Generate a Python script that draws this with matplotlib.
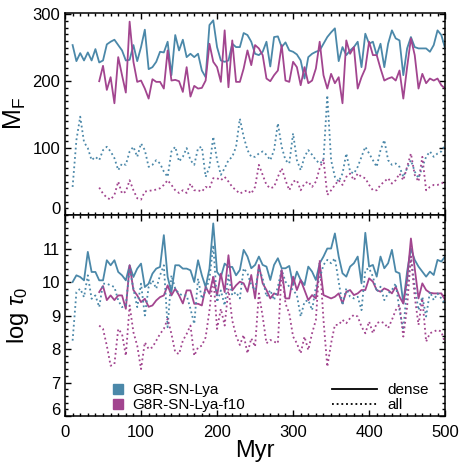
import numpy as np
import matplotlib
matplotlib.use('Agg')
import matplotlib.pyplot as plt
from matplotlib.ticker import MultipleLocator
from matplotlib.lines import Line2D
from matplotlib.transforms import ScaledTranslation

plt.rcParams['font.family'] = ['Liberation Sans', 'DejaVu Sans']
plt.rcParams['mathtext.fontset'] = 'custom'
plt.rcParams['mathtext.rm'] = 'Liberation Sans'
plt.rcParams['mathtext.it'] = 'Liberation Sans:italic'

# time axis (Myr), one snapshot every 5 Myr
t_blue = np.arange(10, 505, 5)
t_mag = np.arange(45, 505, 5)

# M_F, dense gas (solid) and all gas (dotted)
mf_blue_dense = [254, 230, 242, 231, 243, 231, 248, 228, 231, 255, 259, 262, 254, 246, 231, 232, 254, 230, 251, 277,
                 218, 221, 229, 244, 243, 259, 209, 269, 246, 262, 236, 241, 236, 241, 216, 206, 284, 291,
                 251, 231, 229, 231, 256, 251,
                 251, 272, 269, 259, 241, 239, 244, 259, 222, 266, 267, 251, 258, 246, 244, 240, 231, 204, 236, 241,
                 244, 246, 256, 266, 273, 279, 230, 251, 239, 246, 251, 259, 221, 271, 256, 259, 239, 256, 221, 256,
                 276, 264, 261, 209, 249, 266, 251, 249, 249, 249, 244, 254, 276, 269, 249]
mf_mag_dense = [200, 223, 187, 206, 167, 236, 209, 183, 289, 229, 199, 201, 189, 174, 203, 199, 199, 189, 246, 201,
                202, 200, 184, 221, 177, 193, 189, 190, 201, 256, 229, 221, 199, 276, 191, 261, 199,
                199, 219, 246, 224, 254, 249, 239, 204, 200, 209, 216, 254, 201, 199, 229, 221, 194, 221, 197, 201,
                219, 259, 209, 189, 211, 197, 206, 167, 261, 241, 251, 189, 206, 219, 259, 239, 239, 219, 201, 204,
                206, 201, 216, 174, 221, 264, 239, 189, 211, 197, 204, 201, 204, 194, 189]
mf_blue_all = [42, 112, 147, 109, 100, 82, 87, 82, 97, 102, 95, 85, 67, 77, 75, 95, 102, 87, 107, 97,
               72, 75, 82, 77, 65, 57, 95, 102, 80, 87, 100, 82, 75, 100, 102, 57, 72, 117, 82,
               60, 70, 82, 87, 102, 144, 117, 97, 87, 87, 92, 95, 90, 82, 97, 137, 102, 82, 77, 122,
               82, 67, 87, 97, 90, 82, 77, 82, 179, 82, 57, 50, 62, 92, 65, 62, 72, 87, 102, 92,
               82, 72, 97, 112, 82, 75, 77, 72, 57, 70, 82, 65, 55, 72, 87, 95, 87, 92, 95, 105]
mf_mag_all = [41, 32, 26, 23, 30, 50, 32, 35, 52, 37, 25, 23, 35, 36, 37, 38, 40, 45, 52, 45,
              37, 33, 37, 33, 47, 37, 37, 35, 42, 40, 55, 55, 52, 57, 50, 42, 37,
              32, 35, 37, 32, 42, 75, 60, 45, 40, 42, 57, 70, 52, 37, 50, 52, 37, 47, 50, 42,
              50, 70, 83, 30, 37, 45, 52, 45, 57, 62, 52, 62, 57, 55, 45, 37, 37, 45, 50, 55,
              47, 52, 62, 52, 72, 92, 60, 50, 87, 37, 42, 45, 45, 47, 50]

# log tau_0, dense gas (solid) and all gas (dotted)
tau_blue_dense = [10.0, 10.2, 10.15, 10.05, 10.9, 10.3, 10.3, 10.05, 10.05, 10.65, 10.5, 10.65, 10.3, 10.2, 10.05,
                  10.5, 10.15, 10.4, 10.55, 9.85, 9.95, 10.25, 10.4, 10.45, 11.4, 10.15, 9.7, 10.5, 10.5, 10.4,
                  10.4, 10.35, 10.0, 10.65, 10.2, 9.85, 10.4, 11.75, 10.3, 10.15, 10.55, 10.45, 10.45, 10.2,
                  10.36, 10.96, 10.76, 10.41, 10.51, 10.76, 10.51, 10.46, 10.06, 10.51, 10.71, 10.41, 10.41, 10.48,
                  9.91, 10.31, 10.06, 9.91, 10.46, 10.31, 10.06, 10.56, 10.76, 11.0, 11.0, 11.45, 10.76, 10.26,
                  10.16, 10.46, 10.56, 10.76, 9.96, 11.47, 10.46, 10.51, 10.16, 10.76, 10.41, 10.56, 10.96, 10.31,
                  10.26, 9.36, 10.31, 11.0, 10.66, 10.46, 10.31, 10.16, 10.31, 10.21, 10.66, 10.61, 10.76]
tau_mag_dense = [9.7, 9.88, 9.46, 9.6, 9.46, 9.6, 9.6, 9.2, 10.5, 9.76, 9.6, 9.4, 9.5, 9.26, 9.3, 9.45, 9.55, 9.6,
                 9.9, 9.6, 9.8, 9.6, 9.36, 9.75, 9.75, 9.35, 9.35, 9.3, 9.85, 9.65, 10.15, 9.6, 10.25, 9.7, 10.8,
                 9.75, 9.9,
                 10.01, 9.96, 9.71, 10.21, 9.51, 10.51, 9.96, 9.76, 9.51, 9.66, 9.61, 10.36, 9.51, 9.51, 10.16,
                 9.76, 10.06, 9.76, 9.46, 9.61, 9.51, 10.56, 9.61, 9.56, 9.51, 9.56, 9.66, 9.36, 9.71, 9.76,
                 9.61, 9.66, 9.76, 9.76, 10.11, 10.01, 9.76, 9.71, 9.81, 9.76, 9.66, 9.86, 9.56, 9.36, 10.06,
                 11.3, 10.41, 9.51, 9.96, 9.76, 9.68, 9.66, 9.66, 9.66, 9.46]
tau_blue_all = [8.25, 9.7, 9.8, 9.55, 10.2, 9.5, 9.6, 9.25, 9.95, 9.95, 9.9, 9.85, 9.45, 9.25, 9.3, 10.4, 9.8,
                9.25, 9.95, 9.0, 9.85, 10.05, 9.8, 10.2, 10.5, 8.65, 10.2, 9.8, 9.65, 9.6, 9.6, 9.2, 8.75, 10.1,
                9.5, 9.75, 10.1, 11.1, 9.4, 9.75, 9.3, 10.2, 9.6, 9.7,
                9.51, 10.41, 10.26, 9.91, 9.76, 10.41, 10.11, 9.56, 9.76, 9.46, 9.86, 10.36, 10.01, 9.86, 9.76,
                9.61, 8.97, 9.41, 9.46, 9.16, 9.86, 10.11, 10.51, 10.66, 10.56, 10.71, 10.01, 9.31, 9.81, 9.56,
                9.51, 9.56, 9.16, 10.36, 10.41, 10.16, 9.71, 9.86, 9.46, 9.66, 9.76, 9.96, 9.16, 8.57, 9.86,
                10.76, 9.86, 9.16, 9.56, 8.97, 9.71, 9.46, 9.66, 9.51, 9.36]
tau_mag_all = [8.7, 8.6, 8.1, 7.5, 7.55, 8.6, 8.45, 7.8, 9.3, 8.5, 8.1, 7.4, 8.2, 8.0, 8.05, 8.25, 8.45, 8.6,
               8.9, 8.45, 7.9, 7.85, 8.25, 8.45, 8.7, 7.8, 8.05, 8.1, 8.35, 9.15, 10.2, 8.6, 9.2, 8.7, 9.8,
               8.85, 8.4,
               8.12, 8.42, 7.87, 8.32, 8.07, 9.66, 8.97, 8.17, 8.27, 8.22, 8.17, 10.36, 9.36, 9.06, 8.37,
               8.17, 7.87, 8.37, 7.97, 8.47, 8.87, 10.66, 8.87, 7.47, 8.17, 8.72, 8.72, 8.87, 8.77, 8.92,
               9.02, 8.97, 8.67, 8.47, 8.82, 8.47, 8.77, 8.82, 8.77, 8.62, 8.87, 9.16, 9.31, 8.37, 9.26,
               10.76, 9.56, 8.72, 9.51, 8.22, 8.47, 8.52, 8.57, 8.52, 8.17]

run_names = ['G8R-SN-Lya', 'G8R-SN-Lya-f10']
blue = '#4b88a9'
mag = '#a2458f'
dots = (0, (1, 1.6))

fig = plt.figure(figsize=(4.63, 4.63), dpi=100)
ax1 = fig.add_axes([0.1404, 0.5356, 0.821, 0.4364])
ax2 = fig.add_axes([0.1404, 0.1015, 0.821, 0.4341])

ax1.plot(t_blue, mf_blue_dense, color=blue, lw=1.3)
ax1.plot(t_mag, mf_mag_dense, color=mag, lw=1.3)
ax1.plot(t_blue, mf_blue_all, color=blue, lw=1.3, ls=dots)
ax1.plot(t_mag, mf_mag_all, color=mag, lw=1.3, ls=dots)

ax2.plot(t_blue, tau_blue_dense, color=blue, lw=1.3)
ax2.plot(t_mag, tau_mag_dense, color=mag, lw=1.3)
ax2.plot(t_blue, tau_blue_all, color=blue, lw=1.3, ls=dots)
ax2.plot(t_mag, tau_mag_all, color=mag, lw=1.3, ls=dots)

ax1.set_xlim(0, 500)
ax2.set_xlim(0, 500)
ax1.set_ylim(0, 302)
ax2.set_ylim(6, 12)
ax1.set_yticks([0, 100, 200, 300])
ax2.set_yticks([6, 7, 8, 9, 10, 11])
ax1.set_xticks([0, 100, 200, 300, 400, 500])
ax2.set_xticks([0, 100, 200, 300, 400, 500])
ax1.yaxis.set_minor_locator(MultipleLocator(10))
ax2.yaxis.set_minor_locator(MultipleLocator(0.2))
for ax in (ax1, ax2):
    ax.xaxis.set_minor_locator(MultipleLocator(10))
    ax.tick_params(which='both', direction='in', top=True, right=True, width=1.0, labelsize=12)
    ax.tick_params(which='major', length=4.5)
    ax.tick_params(which='minor', length=2.2)
    ax.tick_params(axis='x', pad=6.5)
    for s in ax.spines.values():
        s.set_linewidth(1.1)
ax1.tick_params(labelbottom=False)

ax1.set_ylabel(r'M$_\mathrm{F}$', fontsize=18)
ax2.set_ylabel(r'log $\tau_0$', fontsize=17)
ax1.yaxis.set_label_coords(-0.097, 0.5)
ax2.yaxis.set_label_coords(-0.09, 0.5)
ax2.set_xlabel('Myr', fontsize=17, labelpad=0)

# lift the lowest y labels a bit, like the original
for ax in (ax1, ax2):
    t0 = ax.yaxis.get_major_ticks()[0]
    t0.label1.set_transform(t0.label1.get_transform() + ScaledTranslation(0, 5 / 72, fig.dpi_scale_trans))

h_runs = [Line2D([], [], marker='s', ls='none', color=c, markersize=7) for c in (blue, mag)]
leg1 = ax2.legend(h_runs, run_names, loc='lower left', bbox_to_anchor=(0.125, 0.02), frameon=False,
                  fontsize=11, handlelength=0.75, handletextpad=0.55, labelspacing=0.05, borderpad=0,
                  borderaxespad=0)
ax2.add_artist(leg1)
h_gas = [Line2D([], [], color='black', lw=1.3), Line2D([], [], color='black', lw=1.3, ls=dots)]
ax2.legend(h_gas, ['dense', 'all'], loc='lower left', bbox_to_anchor=(0.703, 0.02), frameon=False,
           fontsize=11, handlelength=2.9, handletextpad=0.7, labelspacing=0.05, borderpad=0, borderaxespad=0)

fig.savefig('out.png', dpi=100)
